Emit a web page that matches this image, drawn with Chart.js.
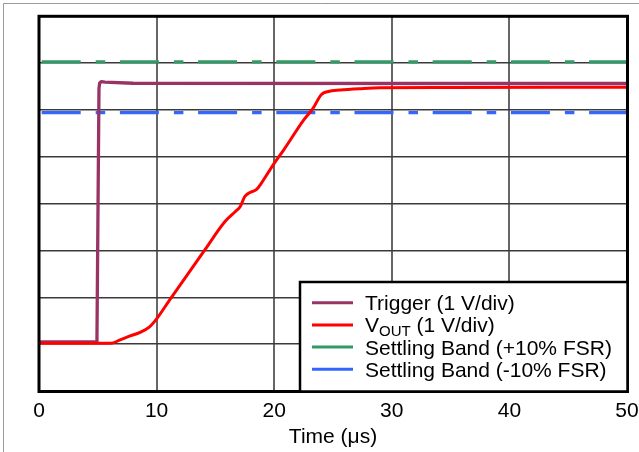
<!DOCTYPE html>
<html><head><meta charset="utf-8">
<script src="https://cdn.jsdelivr.net/npm/chart.js@4/dist/chart.umd.min.js"></script>
<style>html,body{margin:0;padding:0;background:#fff}canvas{display:block}</style>
</head><body>
<canvas id="c" width="639" height="452"></canvas>
<script>
// ---- data (values in divisions, time in µs) ----
const xTickValues = [0, 10, 20, 30, 40, 50];
const triggerTime  = [0, 4.88, 4.93, 5.1, 5.16, 5.3, 5.6, 8, 50];
const triggerLevel = [1.045, 1.045, 1.2, 6.45, 6.57, 6.6, 6.59, 6.565, 6.56];
const voutTime  = [0, 6.1, 6.9, 7.7, 8.6, 9.4, 10.0, 11.1, 14.1, 15.8, 16.7, 17.1, 17.5, 17.9, 18.5, 18.9, 19.9, 20.8, 22.5, 23.3, 24.0, 24.6, 25.6, 27.3, 29.0, 35, 50];
const voutLevel = [1.017, 1.017, 1.09, 1.17, 1.25, 1.37, 1.54, 1.94, 3.01, 3.61, 3.83, 3.93, 4.15, 4.23, 4.30, 4.43, 4.82, 5.14, 5.78, 6.03, 6.32, 6.39, 6.42, 6.45, 6.47, 6.475, 6.48];
const bandTime  = [0, 50];
const bandUpper = [7.02, 7.02];
const bandLower = [5.94, 5.94];
const seriesLabels = ['Trigger (1 V/div)', 'V{OUT} (1 V/div)', 'Settling Band (+10% FSR)', 'Settling Band (-10% FSR)'];
const xAxisTitle = 'Time (\u03bcs)';

const FONT = '"Liberation Sans", Arial, sans-serif';
const toXY = (xs, ys) => xs.map((x, i) => ({x, y: ys[i]}));

const frame = {
  id: 'frame',
  beforeDraw(chart) {
    const ctx = chart.ctx;
    ctx.save();
    ctx.strokeStyle = '#9a9a9a'; ctx.lineWidth = 1;
    ctx.beginPath();
    ctx.moveTo(3.5, 452); ctx.lineTo(3.5, 3.5); ctx.lineTo(639, 3.5);
    ctx.stroke();
    ctx.restore();
  },
  afterDraw(chart) {
    const {ctx, chartArea: a} = chart;
    ctx.save();
    // plot border
    ctx.strokeStyle = '#000'; ctx.lineWidth = 3;
    ctx.strokeRect(a.left, a.top + 0.3, a.right - a.left + 0.5, a.bottom - a.top + 0.2);
    // legend box
    const bx = a.right - 327, by = a.bottom - 109;
    ctx.fillStyle = '#fff';
    ctx.fillRect(bx, by, a.right - bx, a.bottom - by);
    ctx.lineWidth = 2.5;
    ctx.strokeRect(bx, by, a.right - bx + 0.5, a.bottom - by + 0.5);
    const order = [0, 1, 2, 3];
    order.forEach((di, row) => {
      const ds = chart.data.datasets[di];
      const ly = by + 20.7 + row * 22.2;
      ctx.strokeStyle = ds.borderColor; ctx.lineWidth = 3;
      ctx.beginPath(); ctx.moveTo(bx + 12, ly); ctx.lineTo(bx + 53, ly); ctx.stroke();
      ctx.fillStyle = '#000'; ctx.textBaseline = 'alphabetic'; ctx.textAlign = 'left';
      let tx = bx + 65; const base = ly + 7.4;
      const parts = ds.label.split(/(\{[^}]*\})/);
      parts.forEach(p => {
        if (!p) return;
        if (p[0] === '{') {
          const s = p.slice(1, -1);
          ctx.font = '15px ' + FONT;
          ctx.fillText(s, tx, base + 3.2);
          tx += ctx.measureText(s).width;
        } else {
          ctx.font = '21px ' + FONT;
          ctx.fillText(p, tx, base);
          tx += ctx.measureText(p).width;
        }
      });
    });
    ctx.restore();
  }
};

new Chart(document.getElementById('c'), {
  type: 'scatter',
  data: {
    datasets: [
      { label: seriesLabels[0], data: toXY(triggerTime, triggerLevel), showLine: true, borderColor: '#993366', borderWidth: 3.3, pointRadius: 0, tension: 0, borderJoinStyle: 'round', order: 1 },
      { label: seriesLabels[1], data: toXY(voutTime, voutLevel), showLine: true, borderColor: '#ff0000', borderWidth: 3, pointRadius: 0, cubicInterpolationMode: 'monotone', order: 0 },
      { label: seriesLabels[2], data: toXY(bandTime, bandUpper), showLine: true, borderColor: '#339966', borderWidth: 3.3, pointRadius: 0, borderDash: [39, 15, 9.5, 14.7], borderDashOffset: 75.5, order: 2 },
      { label: seriesLabels[3], data: toXY(bandTime, bandLower), showLine: true, borderColor: '#3366ff', borderWidth: 3.3, pointRadius: 0, borderDash: [39, 15, 9.5, 14.7], borderDashOffset: 75.5, order: 3 }
    ]
  },
  options: {
    responsive: false,
    devicePixelRatio: 1,
    animation: false,
    layout: { padding: { left: 39, top: 16, right: 12, bottom: 0 } },
    plugins: { legend: { display: false }, tooltip: { enabled: false } },
    scales: {
      x: {
        type: 'linear', min: 0, max: 50,
        afterBuildTicks: s => { s.ticks = xTickValues.map(v => ({value: v})); },
        afterFit: s => { s.height = 61; s.paddingLeft = 0; s.paddingRight = 0; },
        border: { display: false },
        grid: { color: '#666', lineWidth: 2, drawTicks: false },
        ticks: { color: '#000', font: { family: FONT, size: 21 }, padding: 8, maxRotation: 0 },
        title: { display: true, text: xAxisTitle, color: '#000', font: { family: FONT, size: 21 }, padding: { top: 0, bottom: 2 } }
      },
      y: {
        type: 'linear', min: 0, max: 8,
        ticks: { display: false, stepSize: 1 },
        afterFit: s => { s.width = 0; s.paddingTop = 0; s.paddingBottom = 0; },
        border: { display: false },
        grid: { color: '#3a3a3a', lineWidth: 1.4, drawTicks: false }
      }
    }
  },
  plugins: [frame]
});
</script>
</body></html>
